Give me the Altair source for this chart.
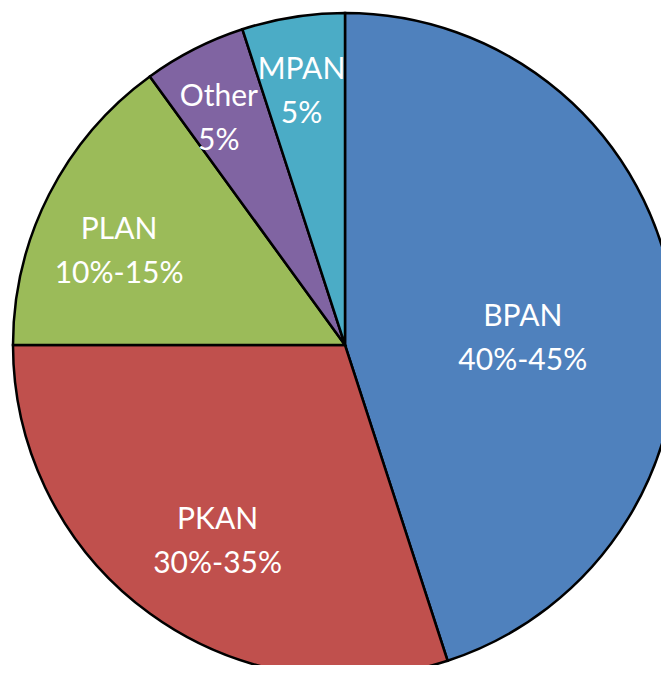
import altair as alt
import pandas as pd

categories = ["BPAN", "PKAN", "PLAN", "Other", "MPAN"]
shares = [45, 30, 15, 5, 5]
share_labels = ["40%-45%", "30%-35%", "10%-15%", "5%", "5%"]
colors = ["#4F81BD", "#C0504D", "#9BBB59", "#8064A2", "#4BACC6"]

df = pd.DataFrame({
    "category": categories,
    "share": shares,
    "label": share_labels,
    "order": list(range(len(categories))),
})
df["text"] = df["category"] + "\n" + df["label"]

base = alt.Chart(df).encode(
    theta=alt.Theta("share:Q", stack=True),
    order=alt.Order("order:Q"),
    x=alt.value(337),
    y=alt.value(337),
)

arcs = base.mark_arc(outerRadius=332, stroke="black", strokeWidth=2.5).encode(
    color=alt.Color("category:N", scale=alt.Scale(domain=categories, range=colors), legend=None)
)

labels = base.mark_text(
    font="Lato", fontSize=30, color="white", lineBreak="\n", lineHeight=44,
    align="center", baseline="middle",
).encode(
    radius=alt.Radius("share:Q", scale=alt.Scale(type="linear", domain=[5, 45], range=[278, 180], zero=False)),
    text="text:N",
)

chart = (arcs + labels).properties(
    width=653, height=657,
    autosize=alt.AutoSizeParams(type="none"),
    padding=0,
).configure_view(strokeWidth=0)

chart.save("out.html", embed_options={"renderer": "svg", "actions": False})
